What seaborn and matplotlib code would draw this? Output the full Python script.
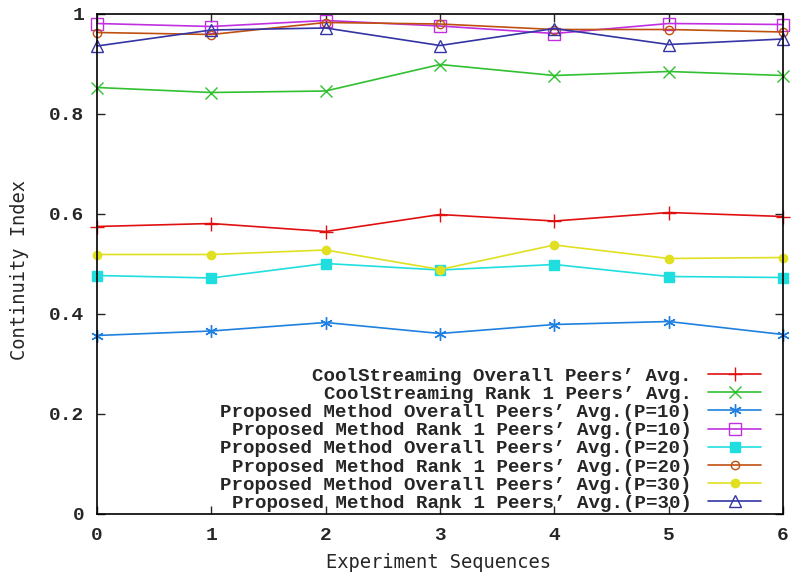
import matplotlib
matplotlib.use("Agg")
import matplotlib.pyplot as plt
import seaborn as sns
import pandas as pd

sequences = [0, 1, 2, 3, 4, 5, 6]

cool_overall = [0.575, 0.581, 0.565, 0.599, 0.586, 0.603, 0.595]
cool_rank1 = [0.853, 0.843, 0.846, 0.899, 0.877, 0.885, 0.877]
prop_overall_10 = [0.357, 0.366, 0.383, 0.361, 0.379, 0.385, 0.359]
prop_rank1_10 = [0.981, 0.975, 0.987, 0.976, 0.961, 0.981, 0.979]
prop_overall_20 = [0.477, 0.472, 0.501, 0.488, 0.499, 0.475, 0.473]
prop_rank1_20 = [0.963, 0.959, 0.983, 0.980, 0.969, 0.969, 0.964]
prop_overall_30 = [0.519, 0.519, 0.528, 0.489, 0.538, 0.511, 0.513]
prop_rank1_30 = [0.936, 0.968, 0.972, 0.937, 0.971, 0.939, 0.950]

labels = [
    "CoolStreaming Overall Peers\u2019 Avg.",
    "CoolStreaming Rank 1 Peers\u2019 Avg.",
    "Proposed Method Overall Peers\u2019 Avg.(P=10)",
    "Proposed Method Rank 1 Peers\u2019 Avg.(P=10)",
    "Proposed Method Overall Peers\u2019 Avg.(P=20)",
    "Proposed Method Rank 1 Peers\u2019 Avg.(P=20)",
    "Proposed Method Overall Peers\u2019 Avg.(P=30)",
    "Proposed Method Rank 1 Peers\u2019 Avg.(P=30)",
]
series = [cool_overall, cool_rank1, prop_overall_10, prop_rank1_10,
          prop_overall_20, prop_rank1_20, prop_overall_30, prop_rank1_30]

colors = ["#e01010", "#30c030", "#2080e0", "#c030e0", "#20dede", "#c05010", "#e0e020", "#3434a4"]
markers = ["+", "x", (6, 2, 0), "s", "s", "o", "o", "^"]
filled = [True, True, True, False, True, False, True, False]
msizes = [10, 8, 9, 8, 7, 6, 6, 8]

sns.set_style("ticks")
plt.rcParams['font.family'] = ['Liberation Mono', 'DejaVu Sans Mono']

fig = plt.figure(figsize=(7.93, 5.72), dpi=100)
ax = fig.add_axes([97/793, 58/572, 686/793, 500/572])

for vals, lab, c, m, f, ms in zip(series, labels, colors, markers, filled, msizes):
    df = pd.DataFrame({"x": sequences, "y": vals})
    kw = dict(markerfacecolor=c if f else "none", markeredgecolor=c, markersize=ms, markeredgewidth=1.0)
    sns.lineplot(data=df, x="x", y="y", ax=ax, color=c, marker=m, linewidth=1.2,
                 label=lab, clip_on=False, **kw)

ax.set_xlim(0, 6)
ax.set_ylim(0, 1)
ax.set_xticks(sequences)
ax.set_yticks([0, 0.2, 0.4, 0.6, 0.8, 1])
ax.set_yticklabels(["0", "0.2", "0.4", "0.6", "0.8", "1"])
ax.tick_params(direction="in", length=6, width=1, top=True, right=True,
               labelsize=14, pad=9)
for lbl in ax.get_xticklabels() + ax.get_yticklabels():
    lbl.set_fontweight("bold")
for s in ax.spines.values():
    s.set_linewidth(1.2)
    s.set_color("black")

ax.set_xlabel("Experiment Sequences", fontsize=13.5, family="DejaVu Sans Mono")
ax.set_ylabel("Continuity Index", fontsize=13.5, family="DejaVu Sans Mono")
ax.xaxis.set_label_coords((439 - 97) / 686, (514 - 562) / 500)
ax.yaxis.set_label_coords((20 - 97) / 686, (514 - 270) / 500)
ax.xaxis.label.set_va("center")
ax.yaxis.label.set_va("center")

leg = ax.legend(loc="lower right", bbox_to_anchor=(1 - 22 / 686, 2 / 500), frameon=False,
                markerfirst=False, prop={"family": "Liberation Mono", "size": 13.8, "weight": "bold"},
                labelspacing=0.04, handlelength=2.75, handletextpad=0.85,
                borderaxespad=0.0, borderpad=0.0)

fig.savefig("out.png", dpi=100)
